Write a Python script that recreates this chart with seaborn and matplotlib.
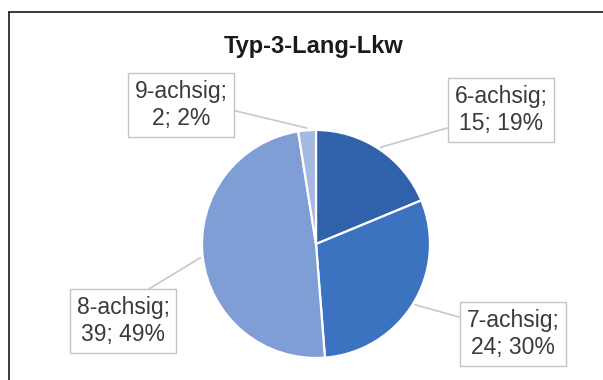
import numpy as np
import matplotlib
matplotlib.use("Agg")
import matplotlib.pyplot as plt
from matplotlib.lines import Line2D
import seaborn as sns

# Achsanzahl der Typ-3-Lang-Lkw
categories = ["6-achsig", "7-achsig", "8-achsig", "9-achsig"]
counts = [15, 24, 39, 2]
title = "Typ-3-Lang-Lkw"

sns.set_theme(style="white")
plt.rcParams["font.family"] = ["Liberation Sans", "DejaVu Sans"]

palette = sns.color_palette(["#2f62ab", "#3b73c1", "#7f9ed5", "#a5b9e1"])

W, H = 603, 380
fig = plt.figure(figsize=(W / 100, H / 100), dpi=100)
fig.patch.set_facecolor("white")

# pie area (pixel geometry of the drawing)
cx, cy, r = 316, 244, 114
ax = fig.add_axes([(cx - r) / W, (H - cy - r) / H, 2 * r / W, 2 * r / H])
ax.set_aspect("equal")

wedges, _ = ax.pie(
    counts,
    colors=palette,
    startangle=90,
    counterclock=False,
    radius=1.0,
    wedgeprops=dict(edgecolor="white", linewidth=1.6),
)
ax.set_xlim(-1, 1)
ax.set_ylim(-1, 1)
ax.axis("off")

total = sum(counts)
percents = [100 * c / total for c in counts]

# label box centres in pixel coordinates of the figure
box_px = {
    "6-achsig": (501, 110),
    "7-achsig": (513, 334),
    "8-achsig": (123, 321),
    "9-achsig": (181, 105),
}
# leader attachment point on the box, relative (x, y) within the box
relpos = {
    "6-achsig": (0.0, 0.18),
    "7-achsig": (0.0, 0.8),
    "8-achsig": (0.65, 1.0),
    "9-achsig": (1.0, 0.42),
}

for w, name, n, p in zip(wedges, categories, counts, percents):
    mid = np.deg2rad((w.theta1 + w.theta2) / 2)
    px, py = np.cos(mid) * 1.02, np.sin(mid) * 1.02
    bx, by = box_px[name]
    tx, ty = (bx - cx) / r, (cy - by) / r
    ax.annotate(
        f"{name};\n{n}; {p:.0f}%",
        xy=(px, py),
        xytext=(tx, ty),
        ha="center",
        va="center",
        multialignment="center",
        fontsize=16.5,
        color="#3a3a3a",
        annotation_clip=False,
        bbox=dict(boxstyle="square,pad=0.3", fc="white", ec="#c4c4c4", lw=1.0),
        arrowprops=dict(
            arrowstyle="-",
            color="#c8c8c8",
            lw=1.2,
            shrinkA=0,
            shrinkB=0,
            relpos=relpos[name],
        ),
    )

fig.text(314 / W, 1 - 46 / H, title, ha="center", va="center",
         fontsize=17, fontweight="bold", color="#1a1a1a")

# outer frame: top and left edges
fig.add_artist(Line2D([9 / W, 1.0], [1 - 12 / H, 1 - 12 / H],
                      transform=fig.transFigure, color="#2a2a2a", lw=1.3))
fig.add_artist(Line2D([9 / W, 9 / W], [0.0, 1 - 12 / H],
                      transform=fig.transFigure, color="#2a2a2a", lw=1.3))

fig.savefig("out.png", dpi=100, facecolor="white")
